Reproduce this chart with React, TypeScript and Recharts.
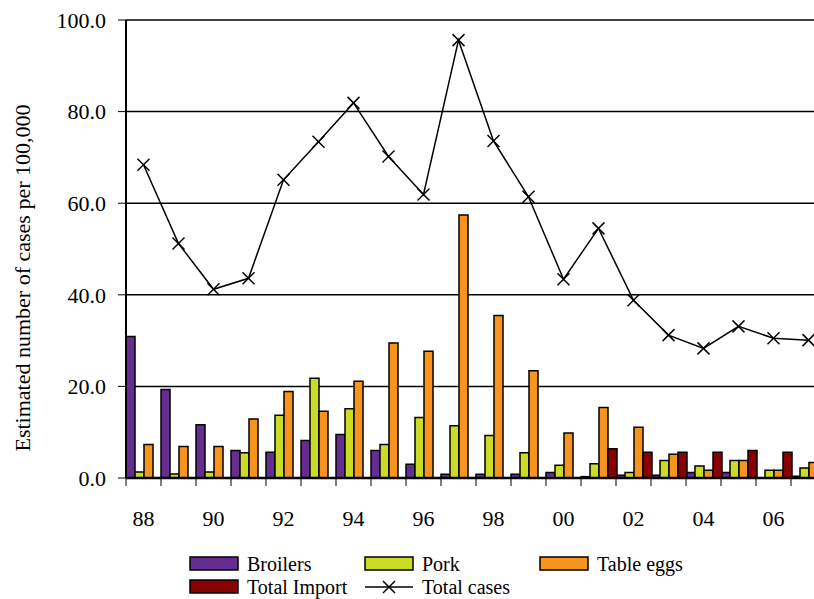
import React from 'react';
import {
  ComposedChart,
  Bar,
  Line,
  XAxis,
  YAxis,
  CartesianGrid,
} from 'recharts';

// Year labels (two-digit) for each category
const years = ['88', '89', '90', '91', '92', '93', '94', '95', '96', '97', '98', '99', '00', '01', '02', '03', '04', '05', '06', '07'];

// Estimated cases per 100,000 by source
const broilers = [30.9, 19.3, 11.6, 6.0, 5.6, 8.2, 9.5, 6.0, 3.0, 0.8, 0.8, 0.8, 1.2, 0.3, 0.6, 0.6, 1.2, 1.2, 0, 0.4];
const pork = [1.3, 0.9, 1.3, 5.5, 13.7, 21.8, 15.1, 7.3, 13.2, 11.4, 9.3, 5.5, 2.8, 3.1, 1.2, 3.8, 2.6, 3.8, 1.7, 2.2];
const tableEggs = [7.3, 6.9, 6.9, 12.9, 18.9, 14.6, 21.1, 29.5, 27.7, 57.4, 35.5, 23.4, 9.8, 15.4, 11.1, 5.2, 1.7, 3.8, 1.7, 3.4];
const totalImport: (number | null)[] = [null, null, null, null, null, null, null, null, null, null, null, null, null, 6.4, 5.6, 5.6, 5.6, 6.0, 5.6, 5.6];
const totalCases = [68.4, 51.2, 41.2, 43.6, 65.1, 73.4, 81.9, 70.2, 61.9, 95.6, 73.6, 61.4, 43.4, 54.5, 38.8, 31.2, 28.3, 33.1, 30.5, 30.1];

const yTicks = [0, 20, 40, 60, 80, 100];

const series = [
  { key: 'broilers', name: 'Broilers', color: '#662D91' },
  { key: 'pork', name: 'Pork', color: '#CBDC26' },
  { key: 'eggs', name: 'Table eggs', color: '#F7941E' },
  { key: 'imports', name: 'Total Import', color: '#880000' },
];

const data = years.map((y, i) => ({
  year: y,
  broilers: broilers[i],
  pork: pork[i],
  eggs: tableEggs[i],
  imports: totalImport[i],
  total: totalCases[i],
}));

const FONT = '"Liberation Serif", "Times New Roman", serif';
const CHART_W = 830;
const CHART_H = 599;
const MARGIN = { top: 20, right: 4, left: 66, bottom: 81 };
const Y_AXIS_W = 60;
const X_AXIS_H = 40;
const PLOT_LEFT = MARGIN.left + Y_AXIS_W;
const PLOT_RIGHT = CHART_W - MARGIN.right;
const PLOT_BOTTOM = CHART_H - MARGIN.bottom - X_AXIS_H;
const BAND = (PLOT_RIGHT - PLOT_LEFT) / years.length;

// Category-axis tick: tick marks sit on category boundaries, labels every other year
const XTick = (props: any) => {
  const { x, payload, index } = props;
  const left = x - BAND / 2;
  return (
    <g>
      <line x1={left} y1={PLOT_BOTTOM} x2={left} y2={PLOT_BOTTOM + 8} stroke="#000" strokeWidth={1} />
      {index % 2 === 0 && (
        <text x={x} y={PLOT_BOTTOM + 48} textAnchor="middle" style={{ fontFamily: FONT, fontSize: 22 }} fill="#000">
          {payload.value}
        </text>
      )}
    </g>
  );
};

// Cross marker for the total-cases line
const CrossDot = (props: any) => {
  const { cx, cy, index } = props;
  if (cx == null || cy == null) return <g key={`d-${index}`} />;
  const s = 6;
  return (
    <g key={`d-${index}`}>
      <line x1={cx - s} y1={cy - s} x2={cx + s} y2={cy + s} stroke="#000" strokeWidth={1.5} />
      <line x1={cx - s} y1={cy + s} x2={cx + s} y2={cy - s} stroke="#000" strokeWidth={1.5} />
    </g>
  );
};

const YTitle = () => (
  <text
    x={22}
    y={278}
    transform="rotate(-90 22 278)"
    textAnchor="middle"
    dominantBaseline="central"
    style={{ fontFamily: FONT, fontSize: 22 }}
    fill="#000"
  >
    Estimated number of cases per 100,000
  </text>
);

const legendCols = [190, 365, 540];
const legendRows = [557, 580];

const LegendOverlay = () => {
  const items = [
    { ...series[0], col: 0, row: 0, kind: 'bar' },
    { ...series[1], col: 1, row: 0, kind: 'bar' },
    { ...series[2], col: 2, row: 0, kind: 'bar' },
    { ...series[3], col: 0, row: 1, kind: 'bar' },
    { key: 'total', name: 'Total cases', color: '#000', col: 1, row: 1, kind: 'line' },
  ];
  return (
    <svg width={814} height={599} style={{ position: 'absolute', left: 0, top: 0, pointerEvents: 'none' }}>
      {items.map((it) => {
        const x = legendCols[it.col];
        const y = legendRows[it.row];
        return (
          <g key={it.key}>
            {it.kind === 'bar' ? (
              <rect x={x} y={y} width={48} height={13} fill={it.color} stroke="#000" strokeWidth={1.5} />
            ) : (
              <g>
                <line x1={x} y1={y + 7} x2={x + 48} y2={y + 7} stroke="#000" strokeWidth={1.5} />
                <line x1={x + 18} y1={y + 1} x2={x + 30} y2={y + 13} stroke="#000" strokeWidth={1.5} />
                <line x1={x + 18} y1={y + 13} x2={x + 30} y2={y + 1} stroke="#000" strokeWidth={1.5} />
              </g>
            )}
            <text x={x + 57} y={y + 14} style={{ fontFamily: FONT, fontSize: 20 }} fill="#000">
              {it.name}
            </text>
          </g>
        );
      })}
    </svg>
  );
};

export default function App() {
  return (
    <div
      style={{
        position: 'absolute',
        left: 0,
        top: 0,
        width: 814,
        height: 599,
        overflow: 'hidden',
        background: '#fff',
      }}
    >
      <ComposedChart
        width={CHART_W}
        height={CHART_H}
        data={data}
        margin={MARGIN}
        barCategoryGap={0}
        barGap={0}
      >
        <CartesianGrid vertical={false} stroke="#000" strokeWidth={1.5} horizontalValues={yTicks} />
        <XAxis
          dataKey="year"
          height={X_AXIS_H}
          interval={0}
          tickLine={false}
          axisLine={{ stroke: '#000', strokeWidth: 2.5 }}
          tick={<XTick />}
        />
        <YAxis
          width={Y_AXIS_W}
          domain={[0, 100]}
          ticks={yTicks}
          tickFormatter={(v: number) => v.toFixed(1)}
          tickSize={8}
          tickMargin={12}
          tickLine={{ stroke: '#000', strokeWidth: 1 }}
          axisLine={{ stroke: '#000', strokeWidth: 2 }}
          tick={{ fontFamily: FONT, fontSize: 22, fill: '#000' }}
          allowDataOverflow
        />
        {series.map((s) => (
          <Bar
            key={s.key}
            dataKey={s.key}
            name={s.name}
            fill={s.color}
            stroke="#000"
            strokeWidth={1.5}
            isAnimationActive={false}
          />
        ))}
        <Line
          dataKey="total"
          name="Total cases"
          stroke="#000"
          strokeWidth={1.5}
          dot={CrossDot}
          activeDot={false}
          isAnimationActive={false}
        />
        <YTitle />
      </ComposedChart>
      <LegendOverlay />
    </div>
  );
}
